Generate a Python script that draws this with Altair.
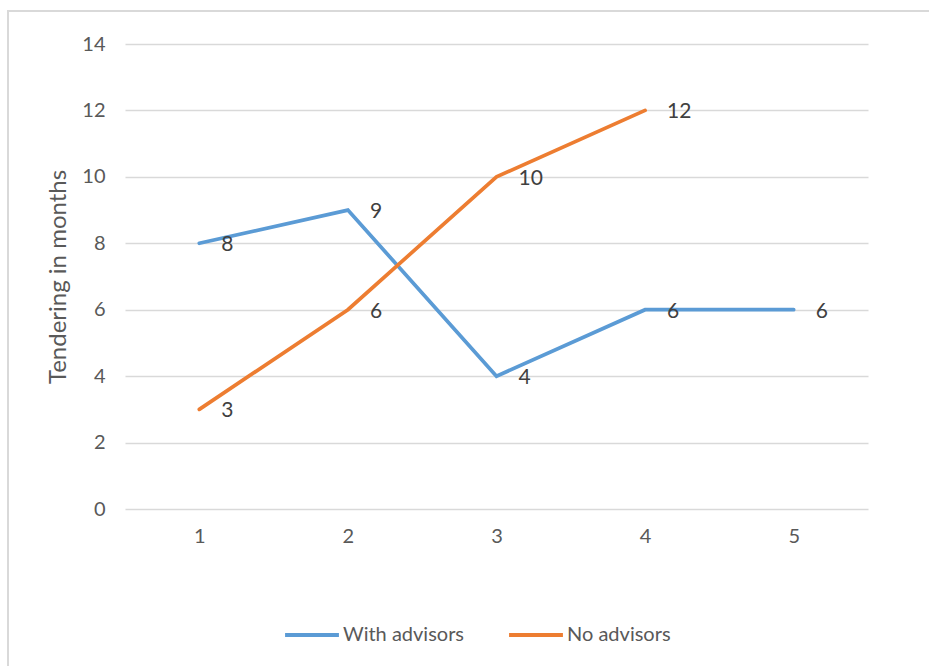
import altair as alt
import pandas as pd

# Chart values
categories = ["1", "2", "3", "4", "5"]
with_advisors = [8, 9, 4, 6, 6]
no_advisors = [3, 6, 10, 12]
series_names = ["With advisors", "No advisors"]
series_colors = ["#5B9BD5", "#ED7D31"]
y_ticks = [0, 2, 4, 6, 8, 10, 12, 14]

rows = []
for cat, v in zip(categories, with_advisors):
    rows.append({"cat": cat, "series": series_names[0], "value": v})
for cat, v in zip(categories, no_advisors):
    rows.append({"cat": cat, "series": series_names[1], "value": v})
df = pd.DataFrame(rows)

FONT = "Lato"
GREY = "#595959"

x_enc = alt.X(
    "cat:O",
    title=None,
    scale=alt.Scale(paddingOuter=0.5),
    axis=alt.Axis(
        labelAngle=0, labelFontSize=20, labelColor=GREY, labelFont=FONT,
        ticks=False, domain=False, grid=False, labelPadding=17,
    ),
)
y_enc = alt.Y(
    "value:Q",
    title="Tendering in months",
    scale=alt.Scale(domain=[0, 14], nice=False),
    axis=alt.Axis(
        values=y_ticks, labelFontSize=20, labelColor=GREY, labelFont=FONT,
        ticks=False, domain=False, grid=True, gridColor="#D9D9D9",
        gridWidth=1.3, labelPadding=20, titleFontSize=24, titleColor=GREY,
        titleFont=FONT, titleFontWeight="normal", titlePadding=11,
    ),
)
color_enc = alt.Color(
    "series:N",
    scale=alt.Scale(domain=series_names, range=series_colors),
    legend=alt.Legend(
        title=None, orient="none", direction="horizontal",
        legendX=158, legendY=562,
        symbolType="stroke", symbolSize=2900, symbolStrokeWidth=4,
        labelFontSize=20, labelColor=GREY, labelFont=FONT,
        columnPadding=36, labelOffset=2,
    ),
)

lines = alt.Chart(df).mark_line(strokeWidth=3.7, strokeCap="round").encode(
    x=x_enc, y=y_enc, color=color_enc, order="cat:O"
)

labels = alt.Chart(df).mark_text(
    align="left", baseline="middle", dx=22, dy=2,
    fontSize=21, font=FONT, color="#404040",
).encode(x=alt.X("cat:O"), y=alt.Y("value:Q"), text="value:Q")

# Outer frame around the whole chart area
frame = alt.Chart(pd.DataFrame({"k": [0]})).mark_rect(
    filled=False, stroke="#D9D9D9", strokeWidth=2
).encode(
    x=alt.value(-117), x2=alt.value(812), y=alt.value(-33), y2=alt.value(640)
)

chart = alt.layer(frame, lines, labels).properties(
    width=743, height=465,
    padding={"left": 125, "top": 44, "right": 61, "bottom": 157},
    autosize=alt.AutoSizeParams(type="none"),
    background="white",
).configure_view(stroke=None)

chart.save("out.html", embed_options={"renderer": "svg", "actions": False})
